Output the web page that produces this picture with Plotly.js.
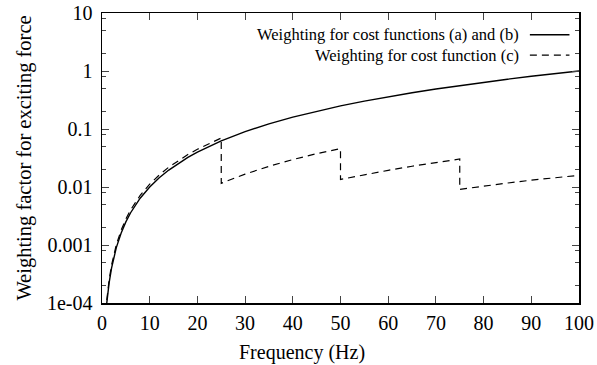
<!DOCTYPE html>
<html>
<head>
<meta charset="utf-8">
<script src="https://cdn.plot.ly/plotly-3.0.1.min.js"></script>
<style>html,body{margin:0;padding:0;background:#fff;}#chart{width:597px;height:365px;}</style>
</head>
<body>
<div id="chart"></div>
<script>
// Weighting for cost functions (a) and (b)
var freqSolid = [1, 1.25, 1.5, 2, 2.5, 3, 4, 5, 6, 7, 8, 10, 12, 14, 16, 18, 20, 22.5, 25, 30, 35, 40, 45, 50, 55, 60, 65, 70, 75, 80, 85, 90, 95, 100];
var weightSolid = [0.0001, 0.000156, 0.000225, 0.0004, 0.000625, 0.0009, 0.0016, 0.0025, 0.0036, 0.0049, 0.0064, 0.01, 0.0144, 0.0196, 0.0256, 0.0324, 0.04, 0.0506, 0.0625, 0.09, 0.1225, 0.16, 0.2025, 0.25, 0.3025, 0.36, 0.4225, 0.49, 0.5625, 0.64, 0.7225, 0.81, 0.9025, 1.0];
// Weighting for cost function (c)
var freqDash = [1, 1.25, 1.5, 2, 2.5, 3, 4, 5, 6, 7, 8, 10, 12, 14, 16, 18, 20, 22.5, 25, 25, 30, 35, 40, 45, 50, 50, 55, 60, 65, 70, 75, 75, 80, 85, 90, 95, 100];
var weightDash = [0.000112, 0.000175, 0.000252, 0.000448, 0.0007, 0.00101, 0.00179, 0.0028, 0.00403, 0.00549, 0.00717, 0.0112, 0.0161, 0.022, 0.0287, 0.0363, 0.0448, 0.0567, 0.070, 0.0116, 0.0167, 0.0227, 0.0297, 0.0376, 0.0458, 0.0135, 0.0163, 0.0194, 0.0228, 0.0265, 0.0304, 0.0091, 0.0104, 0.0117, 0.0131, 0.0146, 0.0159];
var yTickVals = [0.0001, 0.001, 0.01, 0.1, 1, 10];
var yTickText = ['1e-04', '0.001', '0.01', '0.1', '1', '10'];
var xTickVals = [0, 10, 20, 30, 40, 50, 60, 70, 80, 90, 100];
var legendNames = ['Weighting for cost functions (a) and (b)', 'Weighting for cost function (c)'];
var xTitle = 'Frequency (Hz)';
var yTitle = 'Weighting factor for exciting force';

var minorVals = [];
[0.0001, 0.001, 0.01, 0.1, 1].forEach(function (d) { [2, 5, 8].forEach(function (m) { minorVals.push(d * m); }); });

var serifFam = 'Liberation Serif';
var traces = [
  {x: freqSolid, y: weightSolid, mode: 'lines', name: legendNames[0], line: {color: '#000', width: 1.4}},
  {x: freqDash, y: weightDash, mode: 'lines', name: legendNames[1], line: {color: '#000', width: 1.2, dash: '7px,5px'}}
];
var layout = {
  width: 597, height: 365,
  margin: {l: 102, r: 18, t: 13, b: 62},
  paper_bgcolor: '#fff', plot_bgcolor: '#fff',
  showlegend: false,
  font: {family: serifFam, color: '#000', size: 20},
  xaxis: {
    range: [0, 100], tickvals: xTickVals, ticks: 'inside', ticklen: 7, tickwidth: 1,
    showline: true, linecolor: '#000', linewidth: 1.5, mirror: 'ticks', showgrid: false, zeroline: false,
    tickfont: {size: 20, family: serifFam}, ticklabelstandoff: 1
  },
  yaxis: {
    type: 'log', range: [-4, 1], tickvals: yTickVals, ticktext: yTickText, ticks: 'inside', ticklen: 7, tickwidth: 1,
    showline: true, linecolor: '#000', linewidth: 1.5, mirror: 'ticks', showgrid: false, zeroline: false,
    tickfont: {size: 20, family: serifFam}, ticklabelstandoff: 4,
    minor: {tickvals: minorVals, ticks: 'inside', ticklen: 4, tickwidth: 1, showgrid: false},
    title: {text: yTitle, font: {size: 20.5, family: serifFam}, standoff: 10}
  },
  annotations: [
    {xref: 'paper', yref: 'paper', x: 0.419, y: -0.169, xanchor: 'center', yanchor: 'middle', text: xTitle, showarrow: false, font: {size: 20, family: serifFam}},
    {xref: 'paper', yref: 'paper', x: 0.878, y: 0.925, xanchor: 'right', yanchor: 'middle', text: legendNames[0], showarrow: false, font: {size: 16.5, family: serifFam}},
    {xref: 'paper', yref: 'paper', x: 0.878, y: 0.855, xanchor: 'right', yanchor: 'middle', text: legendNames[1], showarrow: false, font: {size: 16.5, family: serifFam}}
  ],
  shapes: [
    {type: 'line', xref: 'paper', yref: 'paper', x0: 0.897, x1: 0.98, y0: 0.925, y1: 0.925, line: {color: '#000', width: 1.4}},
    {type: 'line', xref: 'paper', yref: 'paper', x0: 0.897, x1: 0.98, y0: 0.855, y1: 0.855, line: {color: '#000', width: 1.2, dash: '7px,5px'}}
  ]
};
Plotly.newPlot('chart', traces, layout, {displayModeBar: false, staticPlot: true});
</script>
</body>
</html>
